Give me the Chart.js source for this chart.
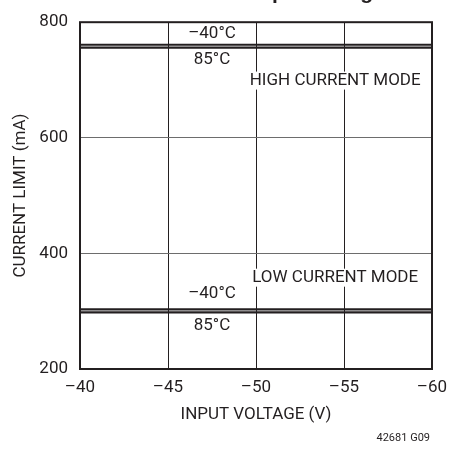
<!DOCTYPE html>
<html>
<head>
<meta charset="utf-8">
<script src="https://cdn.jsdelivr.net/npm/chart.js@4"></script>
<style>
body { margin: 0; background: #fff; }
</style>
</head>
<body>
<canvas id="limitChart" width="462" height="453"></canvas>
<script>
// input voltage (V) and current limit (mA)
const voltages = [-40, -60];
const highCold = [761, 761];
const highHot = [756, 756];
const lowCold = [303, 303];
const lowHot = [298, 298];
const xTicks = [-40, -45, -50, -55, -60];
const yTicks = [200, 400, 600, 800];

const FONT = 'Roboto, "Liberation Sans", sans-serif';
const INK = '#231f20';

// text notes, placed in data units
const notes = [
    { text: '–40°C', x: -47.5, y: 780 },
    { text: '85°C', x: -47.5, y: 735 },
    { text: 'HIGH CURRENT MODE', x: -54.5, y: 699 },
    { text: 'LOW CURRENT MODE', x: -54.5, y: 358 },
    { text: '–40°C', x: -47.5, y: 330 },
    { text: '85°C', x: -47.5, y: 275 }
];

function line(label, values) {
    return {
        label: label,
        data: voltages.map((v, i) => ({ x: v, y: values[i] })),
        borderColor: INK,
        borderWidth: 2.2,
        pointRadius: 0,
        fill: false
    };
}

const extras = {
    id: 'extras',
    beforeDatasetsDraw(chart) {
        const c = chart.ctx;
        const sx = chart.scales.x, sy = chart.scales.y;
        c.save();
        c.font = '17px ' + FONT;
        c.textAlign = 'center';
        c.textBaseline = 'middle';
        notes.forEach(n => {
            const px = sx.getPixelForValue(n.x);
            const py = sy.getPixelForValue(n.y);
            const w = c.measureText(n.text).width;
            c.fillStyle = '#fff';
            c.fillRect(px - w / 2 - 2, py - 9, w + 4, 18);
            c.fillStyle = INK;
            c.fillText(n.text, px, py);
        });
        c.restore();
    },
    afterDraw(chart) {
        const c = chart.ctx;
        const a = chart.chartArea;
        c.save();
        c.strokeStyle = INK;
        c.lineWidth = 2;
        c.strokeRect(a.left, a.top, a.right - a.left, a.bottom - a.top);

        // title, cut off by the top edge
        const title = 'Current Limit vs Input Voltage';
        c.font = 'bold 21px "Liberation Sans", sans-serif';
        c.fillStyle = INK;
        c.textAlign = 'left';
        c.textBaseline = 'alphabetic';
        const pre = c.measureText('Current Limit vs In').width;
        c.fillText(title, 272 - pre, -1);

        c.font = '11px ' + FONT;
        c.textAlign = 'right';
        c.fillText('42681 G09', 430, 441);
        c.restore();
    }
};

new Chart(document.getElementById('limitChart'), {
    type: 'line',
    data: {
        datasets: [
            line('-40°C high', highCold),
            line('85°C high', highHot),
            line('-40°C low', lowCold),
            line('85°C low', lowHot)
        ]
    },
    options: {
        responsive: false,
        animation: false,
        layout: { padding: { top: 18, right: 30, left: 0, bottom: 0 } },
        plugins: {
            legend: { display: false },
            tooltip: { enabled: false }
        },
        scales: {
            x: {
                type: 'linear',
                min: -60,
                max: -40,
                reverse: true,
                afterBuildTicks: s => { s.ticks = xTicks.map(v => ({ value: v })); },
                afterFit: s => { s.height = 84; },
                ticks: {
                    color: INK,
                    padding: 9,
                    font: { family: FONT, size: 17 },
                    callback: v => String(v).replace('-', '–')
                },
                grid: { color: INK, lineWidth: 1, drawTicks: false },
                border: { display: false },
                title: {
                    display: true,
                    text: 'INPUT VOLTAGE (V)',
                    color: INK,
                    font: { family: FONT, size: 17 },
                    padding: { top: 0, bottom: 28 }
                }
            },
            y: {
                min: 200,
                max: 800,
                afterBuildTicks: s => { s.ticks = yTicks.map(v => ({ value: v })); },
                afterFit: s => { s.width = 80; },
                ticks: {
                    color: INK,
                    padding: 12,
                    font: { family: FONT, size: 17 }
                },
                grid: { color: '#6d6d6d', lineWidth: 1, drawTicks: false },
                border: { display: false },
                title: {
                    display: true,
                    text: 'CURRENT LIMIT (mA)',
                    color: INK,
                    font: { family: FONT, size: 17 },
                    padding: { top: 11, bottom: 0 }
                }
            }
        }
    },
    plugins: [extras]
});
</script>
</body>
</html>
